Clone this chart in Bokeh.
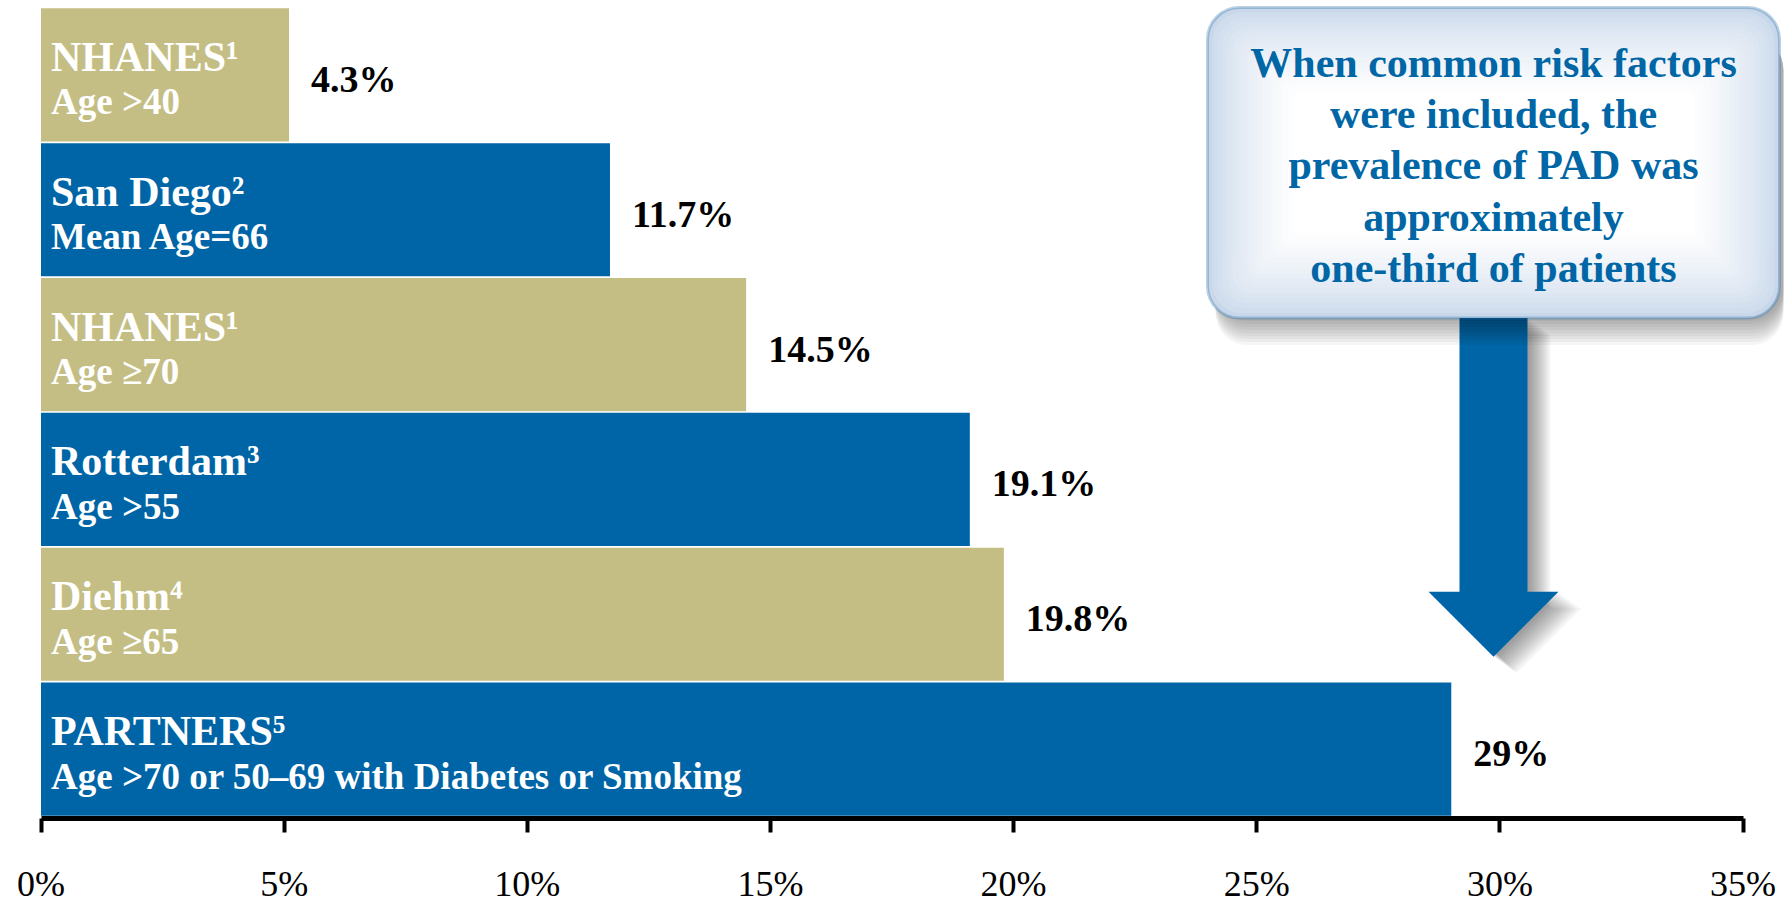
from bokeh.plotting import figure
from bokeh.models import ColumnDataSource, Range1d, FixedTicker, BoxAnnotation
from bokeh.core.properties import value
from bokeh.embed import file_html
from bokeh.resources import INLINE

# ---------------- data ----------------
studies = ["NHANES¹", "San Diego²", "NHANES¹", "Rotterdam³", "Diehm⁴", "PARTNERS⁵"]
details = ["Age >40", "Mean Age=66", "Age ≥70", "Age >55", "Age ≥65",
           "Age >70 or 50–69 with Diabetes or Smoking"]
prevalence_labels = ["4.3%", "11.7%", "14.5%", "19.1%", "19.8%", "29%"]
bar_lengths = [5.1, 11.7, 14.5, 19.1, 19.8, 29.0]   # drawn bar extent (%)
x_ticks = [0, 5, 10, 15, 20, 25, 30, 35]
x_tick_labels = ["0%", "5%", "10%", "15%", "20%", "25%", "30%", "35%"]
callout_lines = ["When common risk factors", "were included, the",
                 "prevalence of PAD was", "approximately", "one-third of patients"]

BLUE = "#0065A6"
TAN = "#C4BE85"
TEXT_BLUE = "#0066A6"
FONT = "Liberation Serif"

# ---------------- layout ----------------
W, H = 1786, 906
FRAME_H = 819
PX_X = 48.63      # px per 1 %
X0 = 40.5         # px of 0 %
PX_Y = 135.0      # px per bar slot
TOP = 7.0         # px of top of first bar
n = len(studies)
y_end = n - 0.5 + TOP / PX_Y
y_start = y_end - FRAME_H / PX_Y
x_start = -X0 / PX_X
x_end = x_start + W / PX_X


def dx(px):
    return x_start + px / PX_X


def dy(py):
    return y_end - py / PX_Y


ys = [n - 1 - i for i in range(n)]
colors = [TAN if i % 2 == 0 else BLUE for i in range(n)]
src = ColumnDataSource(dict(y=ys, length=bar_lengths, color=colors, study=studies,
                            detail=details, label=prevalence_labels))

p = figure(width=W, height=H, x_range=Range1d(x_start, x_end), y_range=Range1d(y_start, y_end),
           output_backend="svg", toolbar_location=None, y_axis_location=None,
           min_border_left=0, min_border_right=0, min_border_top=0, min_border_bottom=H - FRAME_H)
p.grid.visible = False
p.outline_line_color = None
p.background_fill_color = "white"
p.border_fill_color = "white"

# axis
ax = p.xaxis[0]
ax.ticker = FixedTicker(ticks=x_ticks)
ax.major_label_overrides = {t: l for t, l in zip(x_ticks, x_tick_labels)}
ax.bounds = (x_ticks[0], x_ticks[-1])
ax.axis_line_width = 5
ax.axis_line_color = "black"
ax.major_tick_line_width = 4
ax.major_tick_line_color = "black"
ax.major_tick_out = 14
ax.major_tick_in = 0
ax.minor_tick_line_color = None
ax.major_label_text_font = FONT
ax.major_label_text_font_size = "36px"
ax.major_label_text_color = "black"
ax.major_label_standoff = 31

# bars
p.hbar(y="y", left=0, right="length", height=0.988, fill_color="color", line_color=None, source=src)

# texts in bars
p.text(x=0, y="y", text="study", x_offset=10, y_offset=-18, text_baseline="alphabetic",
       text_align="left", text_font=value(FONT), text_font_style="bold",
       text_font_size="42px", text_color="white", source=src)
p.text(x=0, y="y", text="detail", x_offset=10, y_offset=27, text_baseline="alphabetic",
       text_align="left", text_font=value(FONT), text_font_style="bold",
       text_font_size="37px", text_color="white", source=src)
p.text(x="length", y="y", text="label", x_offset=22, y_offset=4, text_baseline="middle",
       text_align="left", text_font=value(FONT), text_font_style="bold",
       text_font_size="38px", text_color="black", source=src)

# ---------------- callout arrow ----------------
ax_px = [1459, 1527, 1527, 1558, 1493, 1428, 1459]
ay_px = [318, 318, 592, 592, 657, 592, 592]
for j in range(10):
    ox, oy = 3 + 2.2 * j, 2 + 1.6 * j
    p.patch([dx(v + ox) for v in ax_px], [dy(v + oy) for v in ay_px],
            fill_color="#000000", fill_alpha=0.045, line_color=None)
p.patch([dx(v) for v in ax_px], [dy(v) for v in ay_px], fill_color=BLUE, line_color=None)

# ---------------- callout box ----------------
L, R, T, B = 1207, 1779, 7, 318
# shadow
for j in range(9):
    p.add_layout(BoxAnnotation(left=dx(L + 8), right=dx(R + 4), top=dy(T + 30), bottom=dy(B + 3 + j * 3),
                               fill_color="black", fill_alpha=0.04, line_color=None, border_radius=32))
# gradient fill
edge = (200, 215, 234)
N = 18
for k in range(N):
    inset = k * 5
    t = k / (N - 1)
    e = t ** 0.7
    c = tuple(int(round(edge[i] + (255 - edge[i]) * e)) for i in range(3))
    p.add_layout(BoxAnnotation(left=dx(L + inset), right=dx(R - inset), top=dy(T + inset),
                               bottom=dy(B - inset), fill_color="#%02x%02x%02x" % c, fill_alpha=1,
                               line_color=None, border_radius=int(max(32 - inset * 0.5, 6))))
# border
p.add_layout(BoxAnnotation(left=dx(L), right=dx(R), top=dy(T), bottom=dy(B), fill_color=None,
                           fill_alpha=0, line_color="#1E6AA6", line_width=3, border_radius=32))

cl = p.text(x=[dx(1493)] * len(callout_lines), y=[dy(62.6 + i * 51.3) for i in range(len(callout_lines))],
            text=callout_lines, text_align="center", text_baseline="middle", text_font=value(FONT),
            text_font_style="bold", text_font_size="42px", text_color=TEXT_BLUE)
cl.level = "overlay"

open("out.html", "w").write(file_html(p, INLINE))
